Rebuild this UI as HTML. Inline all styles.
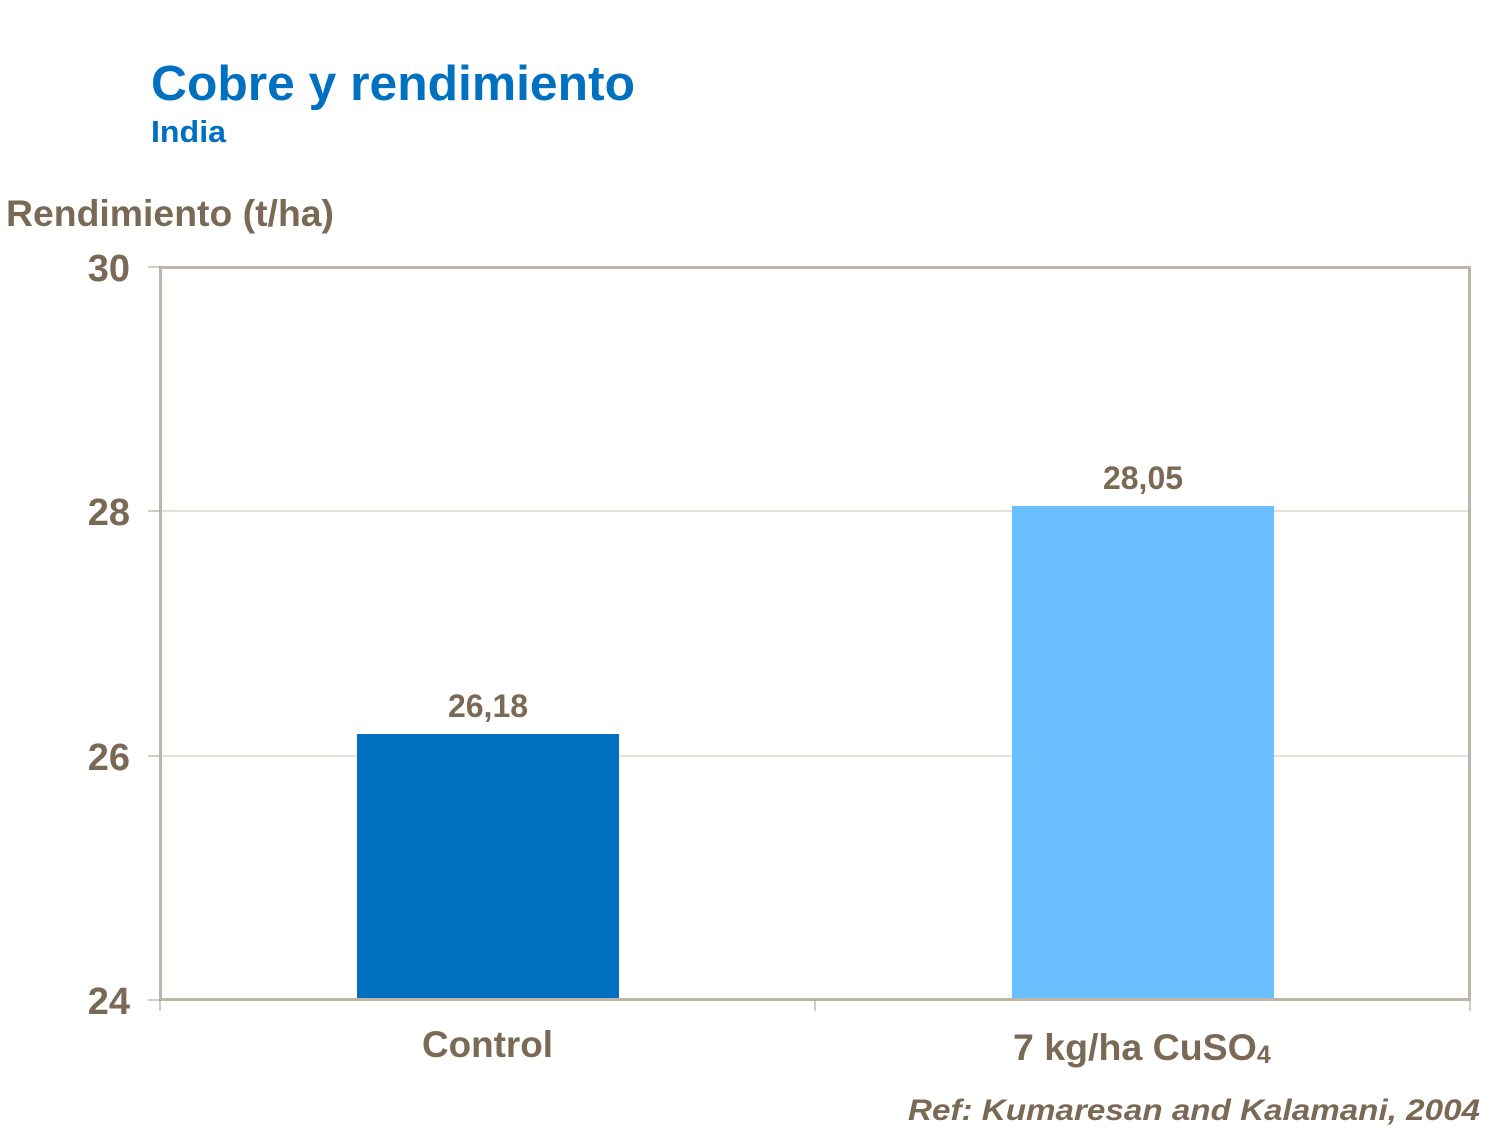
<!DOCTYPE html>
<html><head><meta charset="utf-8"><style>
body{margin:0;width:1500px;height:1125px;background:#fff;font-family:"Liberation Sans",sans-serif;overflow:hidden}
</style></head><body>
<svg width="1500" height="1125" xmlns="http://www.w3.org/2000/svg" font-family="Liberation Sans, sans-serif" font-weight="bold">
<text x="151" y="100" font-size="49" fill="#0070c0" textLength="484" lengthAdjust="spacingAndGlyphs">Cobre y rendimiento</text>
<text x="151" y="142" font-size="31" fill="#0070c0" textLength="75" lengthAdjust="spacingAndGlyphs">India</text>
<text x="6" y="226" font-size="37" fill="#7a6a55" textLength="328" lengthAdjust="spacingAndGlyphs">Rendimiento (t/ha)</text>
<g stroke="#c9c1b8" stroke-width="1">
<line x1="160" y1="511" x2="1470" y2="511"/>
<line x1="160" y1="756" x2="1470" y2="756"/>
</g>
<rect x="357" y="734" width="262" height="266" fill="#0070c0"/>
<rect x="1012" y="506" width="262" height="494" fill="#6abfff"/>
<rect x="160.5" y="267.5" width="1309" height="732" fill="none" stroke="#bfb4a8" stroke-width="3"/>
<g stroke="#a89a8a" stroke-width="1">
<line x1="148" y1="267" x2="160" y2="267"/>
<line x1="148" y1="511" x2="160" y2="511"/>
<line x1="148" y1="756" x2="160" y2="756"/>
<line x1="148" y1="1000" x2="160" y2="1000"/>
<line x1="160" y1="1000" x2="160" y2="1011"/>
<line x1="815" y1="1000" x2="815" y2="1011"/>
<line x1="1470" y1="1000" x2="1470" y2="1011"/>
</g>
<g font-size="38" fill="#7a6a55" text-anchor="end">
<text x="130" y="281">30</text>
<text x="130" y="525">28</text>
<text x="130" y="770">26</text>
<text x="130" y="1014">24</text>
</g>
<g font-size="32" fill="#7a6a55" text-anchor="middle">
<text x="488" y="717">26,18</text>
<text x="1143" y="489">28,05</text>
</g>
<g font-size="37.5" fill="#7a6a55">
<text x="422" y="1057" textLength="131" lengthAdjust="spacingAndGlyphs">Control</text>
<text x="1013" y="1060">7 kg/ha CuSO<tspan font-size="25" dy="3">4</tspan></text>
</g>
<text x="908" y="1120" font-size="30" font-style="italic" fill="#7a6a55" textLength="572" lengthAdjust="spacingAndGlyphs">Ref: Kumaresan  and Kalamani,  2004</text>
</svg>
</body></html>
